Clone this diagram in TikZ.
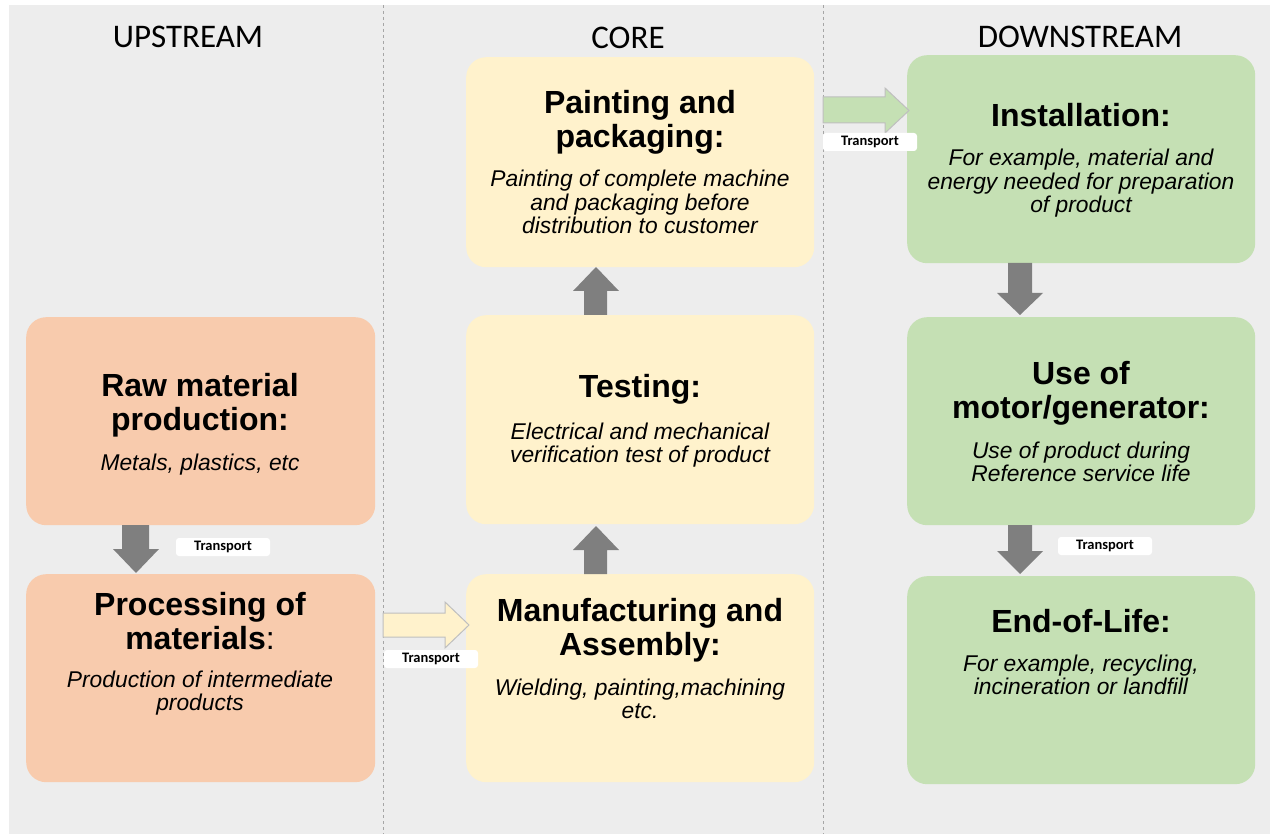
\documentclass[tikz,border=0pt]{standalone}
\usepackage{fontspec}
\setmainfont{Liberation Sans}
\newfontfamily\calfont{Carlito}
\definecolor{bgc}{HTML}{EDEDED}
\definecolor{orangebox}{HTML}{F8CBAD}
\definecolor{yellowbox}{HTML}{FFF2CC}
\definecolor{greenbox}{HTML}{C5E0B4}
\definecolor{arrowgray}{HTML}{7F7F7F}
\definecolor{dashgray}{HTML}{A6A6A6}
\definecolor{outlinegray}{HTML}{BFBFBF}
\tikzset{
  box/.style={rounded corners=20pt, draw=none, inner sep=0pt, anchor=north west},
  header/.style={font=\calfont\fontsize{33}{36}\selectfont, inner sep=0pt},
  ttl/.style={font=\bfseries\fontsize{32}{34}\selectfont, align=center, inner sep=0pt, anchor=base},
  desc/.style={font=\itshape\fontsize{22.8}{23.5}\selectfont, align=center, inner sep=0pt, anchor=base},
  tlabel/.style={fill=white, rounded corners=3pt, minimum width=94pt, minimum height=18pt, inner sep=0pt, font=\calfont\bfseries\fontsize{14.5}{15}\selectfont},
  garrow/.style={fill=arrowgray, draw=none},
  divider/.style={draw=dashgray, line width=1pt, dash pattern=on 3pt off 3pt},
}
\begin{document}
\begin{tikzpicture}[x=1pt,y=-1pt]
\useasboundingbox (0,0) rectangle (1270,834);
\fill[bgc] (9,5) rectangle (1270,834);
% dividers
\draw[divider] (383,5) -- (383,834);
\draw[divider] (823,5) -- (823,834);
% headers
\node[header] (hup) at (188,37) {UPSTREAM};
\node[header] (hcore) at (628,38) {CORE};
\node[header] (hdown) at (1080,37) {DOWNSTREAM};
% boxes
\node[box, fill=orangebox, minimum width=349pt, minimum height=208pt] (raw) at (26,317) {};
\node[box, fill=orangebox, minimum width=349pt, minimum height=208pt] (proc) at (26,574) {};
\node[box, fill=yellowbox, minimum width=348pt, minimum height=210pt] (paint) at (466,57) {};
\node[box, fill=yellowbox, minimum width=348pt, minimum height=209pt] (test) at (466,315) {};
\node[box, fill=yellowbox, minimum width=348pt, minimum height=208pt] (manuf) at (466,574) {};
\node[box, fill=greenbox, minimum width=348pt, minimum height=208pt] (inst) at (907,55) {};
\node[box, fill=greenbox, minimum width=348pt, minimum height=208pt] (use) at (907,317) {};
\node[box, fill=greenbox, minimum width=348pt, minimum height=208pt] (eol) at (907,576) {};
% texts (base anchor = baseline of last line)
\node[ttl] (rawt) at (200,431) {Raw material\\production:};
\node[desc] (rawd) at (200,471) {Metals, plastics, etc};
\node[ttl] (proct) at (200,649) {Processing of\\materials\mdseries:};
\node[desc] (procd) at (200,710.5) {Production of intermediate\\products};
\node[ttl] (paintt) at (640,148) {Painting and\\packaging:};
\node[desc] (paintd) at (640,234) {Painting of complete machine\\and packaging before\\distribution to customer};
\node[ttl] (testt) at (640,398) {Testing:};
\node[desc] (testd) at (640,462.5) {Electrical and mechanical\\verification test of product};
\node[ttl] (manuft) at (640,655) {Manufacturing and\\Assembly:};
\node[desc] (manufd) at (640,718.5) {Wielding, painting,machining\\etc.};
\node[ttl] (instt) at (1081,127) {Installation:};
\node[desc] (instd) at (1081,213) {For example, material and\\energy needed for preparation\\of product};
\node[ttl] (uset) at (1081,419) {Use of\\motor/generator:};
\node[desc] (used) at (1081,481.5) {Use of product during\\Reference service life};
\node[ttl] (eolt) at (1081,632) {End-of-Life:};
\node[desc] (eold) at (1081,694.5) {For example, recycling,\\incineration or landfill};
% block arrows
\fill[garrow] (122,525) -- (149,525) -- (149,549) -- (159,549) -- (136,573) -- (113,549) -- (122,549) -- cycle;
\fill[garrow] (584,315) -- (607,315) -- (607,291) -- (619,291) -- (596,267) -- (573,291) -- (584,291) -- cycle;
\fill[garrow] (584,574) -- (607,574) -- (607,550) -- (619,550) -- (596,526) -- (573,550) -- (584,550) -- cycle;
\fill[garrow] (1008,263) -- (1032,263) -- (1032,293) -- (1043,293) -- (1020,315) -- (997,293) -- (1008,293) -- cycle;
\fill[garrow] (1008,525) -- (1032,525) -- (1032,551) -- (1043,551) -- (1020,574) -- (997,551) -- (1008,551) -- cycle;
\filldraw[fill=yellowbox, draw=outlinegray, line width=1pt] (383,613) -- (445,613) -- (445,602) -- (469,625) -- (445,648) -- (445,637) -- (383,637) -- cycle;
\filldraw[fill=greenbox, draw=outlinegray, line width=1pt] (823,97) -- (885,97) -- (885,88) -- (909,110.5) -- (885,133) -- (885,123) -- (823,123) -- cycle;
% transport labels
\node[tlabel] (t1) at (223,547) {Transport};
\node[tlabel] (t2) at (431,659) {Transport};
\node[tlabel] (t3) at (870,142) {Transport};
\node[tlabel] (t4) at (1105,546) {Transport};
\end{tikzpicture}
\end{document}
